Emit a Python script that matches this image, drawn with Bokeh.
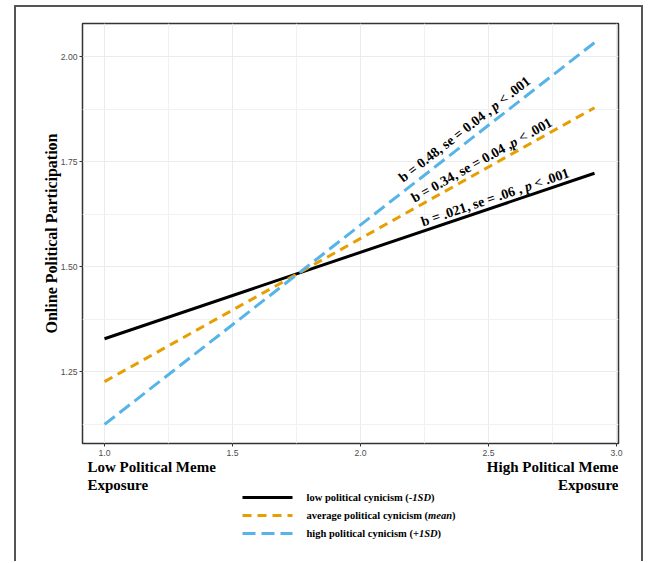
import math
from bokeh.plotting import figure
from bokeh.layouts import column
from bokeh.models import FixedTicker, Range1d
from bokeh.core.properties import value
from bokeh.embed import file_html
from bokeh.resources import INLINE

# ---------------- data ----------------
exposure = [1.0, 2.914]
low_cynicism = [1.328, 1.722]
avg_cynicism = [1.226, 1.878]
high_cynicism = [1.124, 2.033]

# legend labels: (plain part, italic part, closing)
legend_labels = [
    ("low political cynicism (-", "1SD", ")"),
    ("average political cynicism (", "mean", ")"),
    ("high political cynicism (+", "1SD", ")"),
]
x_ticks = [1.0, 1.5, 2.0, 2.5, 3.0]
x_tick_labels = ["1.0", "1.5", "2.0", "2.5", "3.0"]
x_minor = [1.25, 1.75, 2.25, 2.75]
y_ticks = [1.25, 1.50, 1.75, 2.00]
y_tick_labels = ["1.25", "1.50", "1.75", "2.00"]
y_minor = [1.125, 1.375, 1.625, 1.875]

# annotation texts: (before p, space before p?, after p)
ann_high = ("b = 0.48, se = 0.04 ,", True, "< .001")
ann_avg = ("b = 0.34, se = 0.04 ,", False, "< .001")
ann_low = ("b = .021, se = .06 ,", True, "< .001")

x_label_low = ["Low Political Meme", "Exposure"]
x_label_high = ["High Political Meme", "Exposure"]
y_label = "Online Political Participation"

# ---------------- layout ----------------
X0, X1 = 0.914, 3.00775
Y0, Y1 = 1.0786, 2.0786
FW, FH = 536, 420
W = 643
LEFT, TOP, BOTTOM = 82, 23, 17
RIGHT = W - LEFT - FW
HA = TOP + FH + BOTTOM
HB = 101
KX = FW / (X1 - X0)
KY = FH / (Y1 - Y0)

SERIF = "Liberation Serif"
SANS = "Liberation Sans"

# Times bold / bold-italic advance widths (per 1000 em)
BOLD = {" ": 250, "(": 333, ")": 333, "+": 570, ",": 250, "-": 333, ".": 250,
        "<": 570, "=": 570, "a": 500, "b": 556, "c": 444, "d": 556, "e": 444,
        "g": 500, "h": 556, "i": 278, "l": 278, "m": 833, "n": 556, "o": 500,
        "p": 556, "r": 444, "s": 389, "t": 333, "u": 556, "v": 500, "w": 722,
        "y": 500, "S": 556, "D": 722}
BOLD_IT = {"p": 500, "1": 500, "S": 556, "D": 722, "m": 778, "e": 444, "a": 500, "n": 556}
for ch in "0123456789":
    BOLD[ch] = 500


def width_em(s, table):
    return sum(table.get(ch, 500) for ch in s) / 1000.0


p = figure(width=W, height=HA, output_backend="svg", toolbar_location=None,
           x_range=Range1d(X0, X1), y_range=Range1d(Y0, Y1),
           min_border_left=LEFT, min_border_right=RIGHT,
           min_border_top=TOP, min_border_bottom=BOTTOM)
p.border_fill_color = None
p.background_fill_color = "white"
p.outline_line_color = "#333333"
p.outline_line_width = 1.5

p.xaxis.ticker = FixedTicker(ticks=x_ticks, minor_ticks=x_minor)
p.yaxis.ticker = FixedTicker(ticks=y_ticks, minor_ticks=y_minor)
p.xaxis.major_label_overrides = {t: l for t, l in zip(x_ticks, x_tick_labels)}
p.yaxis.major_label_overrides = {t: l for t, l in zip(y_ticks, y_tick_labels)}
for ax in (p.xaxis, p.yaxis):
    ax.axis_line_color = None
    ax.major_tick_in = 0
    ax.major_tick_out = 3
    ax.major_tick_line_color = "#333333"
    ax.minor_tick_line_color = None
    ax.major_label_text_font = SANS
    ax.major_label_text_font_size = "8.6px"
    ax.major_label_text_color = "#4d4d4d"
p.xaxis.major_label_standoff = 2
p.yaxis.major_label_standoff = 1
p.yaxis.axis_label = y_label
p.yaxis.axis_label_text_font = SERIF
p.yaxis.axis_label_text_font_style = "bold"
p.yaxis.axis_label_text_font_size = "16px"
p.yaxis.axis_label_text_color = "black"
p.yaxis.axis_label_standoff = -2

for g in (p.xgrid, p.ygrid):
    g.grid_line_color = "#ebebeb"
    g.grid_line_width = 1
    g.minor_grid_line_color = "#f1f1f1"
    g.minor_grid_line_width = 1

colors = ["#000000", "#E69F00", "#56B4E9"]
dashes = ["solid", "9 6", "13 6"]
widths = [3, 3, 3]
series = [low_cynicism, avg_cynicism, high_cynicism]
for ys, c, d, w in zip(series, colors, dashes, widths):
    p.line(exposure, ys, line_color=c, line_dash=d, line_width=w)

# ---------------- slope annotations ----------------
FS = 14.0
ann_pos = [(2.2383, 1.6055), (2.2020, 1.6612), (2.1563, 1.7079)]  # text start points
anns = [ann_low, ann_avg, ann_high]
for (ax0, ay0), (pre, sp, post), ys in zip(ann_pos, anns, series):
    slope = (ys[1] - ys[0]) / (exposure[1] - exposure[0])
    theta = math.atan(slope * KY / KX)
    off_p = (width_em(pre, BOLD) + (0.25 if sp else 0.0)) * FS
    off_post = off_p + (width_em("p", BOLD_IT) + 0.25) * FS
    segs = [(pre, 0.0, "bold"), ("p", off_p, "bold italic"), (post, off_post, "bold")]
    for txt, off, style in segs:
        sx = ax0 + off * math.cos(theta) / KX
        sy = ay0 + off * math.sin(theta) / KY
        p.text(x=[sx], y=[sy], text=[txt], angle=theta,
               text_font=value(SERIF), text_font_style=style, text_font_size=f"{FS}px",
               text_color="black", text_align="left", text_baseline="alphabetic")

# ---------------- lower strip: end labels and legend ----------------
# its frame is aligned with the main plot's frame (page x from LEFT to LEFT+FW)
q = figure(width=W, height=HB, output_backend="svg", toolbar_location=None,
           x_range=Range1d(LEFT, LEFT + FW), y_range=Range1d(HB, 0),
           x_axis_type=None, y_axis_type=None,
           min_border_left=LEFT, min_border_right=RIGHT,
           min_border_top=0, min_border_bottom=0)
q.outline_line_color = None
q.background_fill_color = None
q.border_fill_color = None
q.grid.visible = False

LAB_FS = "15px"
for txt, yb in zip(x_label_low, [6, 24]):
    q.text(x=[87], y=[yb], text=[txt], text_font=value(SERIF), text_font_style="bold",
           text_font_size=LAB_FS, text_color="black", text_align="left",
           text_baseline="alphabetic")
for txt, yb in zip(x_label_high, [6, 24]):
    q.text(x=[618], y=[yb], text=[txt], text_font=value(SERIF), text_font_style="bold",
           text_font_size=LAB_FS, text_color="black", text_align="right",
           text_baseline="alphabetic")

LEG_FS = 10.5
row_y = [37, 55, 73]
for (plain, ital, close), yy, c, d, w in zip(legend_labels, row_y, colors, dashes, widths):
    q.line([242, 292], [yy, yy], line_color=c, line_dash=d, line_width=w)
    x0 = 306.0
    x1 = x0 + width_em(plain, BOLD) * LEG_FS
    x2 = x1 + width_em(ital, BOLD_IT) * LEG_FS
    for txt, xx, style in ((plain, x0, "bold"), (ital, x1, "bold italic"), (close, x2, "bold")):
        q.text(x=[xx], y=[yy], text=[txt], text_font=value(SERIF), text_font_style=style,
               text_font_size=f"{LEG_FS}px", text_color="black", text_align="left",
               text_baseline="middle")

layout = column(p, q, spacing=0,
                styles={"box-shadow": "inset 14px 0 0 0 #ffffff, inset 0 5px 0 0 #ffffff, "
                                      "inset 16px 0 0 0 #555555, inset 0 7px 0 0 #555555, "
                                      "inset -2px 0 0 0 #555555"})

open("out.html", "w").write(file_html(layout, INLINE))
